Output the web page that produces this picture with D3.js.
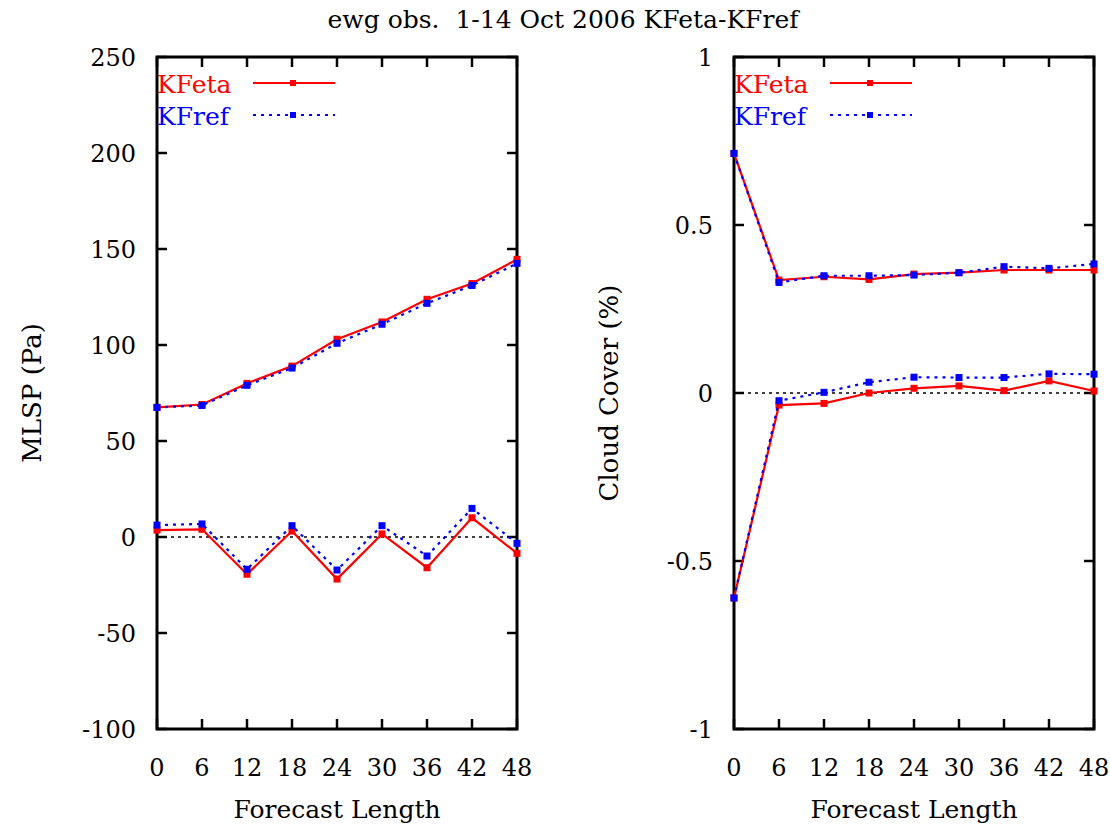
<!DOCTYPE html>
<html>
<head>
<meta charset="utf-8">
<script src="https://cdn.jsdelivr.net/npm/d3@7"></script>
<style>
  body { margin: 0; background: #fff; }
  text { font-family: "DejaVu Serif", "Liberation Serif", serif; white-space: pre; }
</style>
</head>
<body>
<svg id="chart" width="1110" height="829"></svg>
<script>
// forecast hours
const hours = [0, 6, 12, 18, 24, 30, 36, 42, 48];

// MLSP (Pa): upper pair and lower pair of curves
const mlspEtaUpper = [67.5, 69, 80, 89, 103, 112, 123.8, 132, 144.6];
const mlspRefUpper = [67.5, 68.5, 79, 88, 100.9, 110.8, 121.7, 131, 142.5];
const mlspEtaLower = [3.6, 4, -19.4, 3.1, -21.9, 1.6, -16, 10, -8.5];
const mlspRefLower = [6.2, 6.8, -16.8, 5.9, -17.2, 5.9, -9.9, 14.9, -3.3];

// Cloud cover (%): upper pair and lower pair
const ccEtaUpper = [0.713, 0.336, 0.346, 0.338, 0.354, 0.358, 0.366, 0.366, 0.366];
const ccRefUpper = [0.713, 0.329, 0.349, 0.349, 0.351, 0.358, 0.376, 0.371, 0.384];
const ccEtaLower = [-0.61, -0.036, -0.031, 0, 0.014, 0.021, 0.007, 0.036, 0.006];
const ccRefLower = [-0.61, -0.023, 0.002, 0.032, 0.047, 0.046, 0.046, 0.057, 0.056];

// axis ticks
const mlspTicks = [-100, -50, 0, 50, 100, 150, 200, 250];
const ccTicks = [-1, -0.5, 0, 0.5, 1];

const svg = d3.select("#chart");
const red = "#ff0000", blue = "#0000ff";

svg.append("text")
    .attr("x", 563).attr("y", 28)
    .attr("text-anchor", "middle")
    .style("font-size", "25px")
    .text("ewg obs.  1-14 Oct 2006 KFeta-KFref");

function drawPanel(opts) {
    const x = d3.scaleLinear().domain([0, 48]).range([opts.left, opts.left + 360]);
    const y = d3.scaleLinear().domain(opts.domain).range([729, 57]);
    const g = svg.append("g");
    const tick = 10;

    // zero line
    g.append("line")
        .attr("x1", x(0)).attr("x2", x(48))
        .attr("y1", y(0)).attr("y2", y(0))
        .attr("stroke", "#000").attr("stroke-width", 1.5)
        .attr("stroke-dasharray", "3,4");

    // y ticks (inward, mirrored)
    opts.ticks.forEach(t => {
        g.append("line").attr("x1", x(0)).attr("x2", x(0) + tick)
            .attr("y1", y(t)).attr("y2", y(t)).attr("stroke", "#000").attr("stroke-width", 2.5);
        g.append("line").attr("x1", x(48)).attr("x2", x(48) - tick)
            .attr("y1", y(t)).attr("y2", y(t)).attr("stroke", "#000").attr("stroke-width", 2.5);
        g.append("text")
            .attr("x", x(0) - 21).attr("y", y(t) + 9)
            .attr("text-anchor", "end")
            .style("font-size", "24px")
            .text(opts.fmt(t));
    });

    // x ticks
    hours.forEach(h => {
        g.append("line").attr("x1", x(h)).attr("x2", x(h))
            .attr("y1", y.range()[0]).attr("y2", y.range()[0] - tick)
            .attr("stroke", "#000").attr("stroke-width", 2.5);
        g.append("line").attr("x1", x(h)).attr("x2", x(h))
            .attr("y1", y.range()[1]).attr("y2", y.range()[1] + tick)
            .attr("stroke", "#000").attr("stroke-width", 2.5);
        g.append("text")
            .attr("x", x(h)).attr("y", 776)
            .attr("text-anchor", "middle")
            .style("font-size", "24px")
            .text(h);
    });

    // frame
    g.append("rect")
        .attr("x", x(0)).attr("y", 57)
        .attr("width", 360).attr("height", 672)
        .attr("fill", "none").attr("stroke", "#000").attr("stroke-width", 3);

    // axis titles
    g.append("text")
        .attr("x", x(24)).attr("y", 818)
        .attr("text-anchor", "middle")
        .style("font-size", "25px")
        .text("Forecast Length");
    g.append("text")
        .attr("transform", `translate(${opts.left - 116},393) rotate(-90)`)
        .attr("text-anchor", "middle")
        .style("font-size", "26px")
        .text(opts.ylabel);

    const line = d3.line().x((d, i) => x(hours[i])).y(d => y(d));

    function series(vals, color, dashed) {
        g.append("path")
            .datum(vals)
            .attr("d", line)
            .attr("fill", "none")
            .attr("stroke", color)
            .attr("stroke-width", 2.2)
            .attr("stroke-dasharray", dashed ? "3,5" : null);
        g.selectAll(null)
            .data(vals)
            .enter()
            .append("rect")
            .attr("x", (d, i) => x(hours[i]) - 3.5)
            .attr("y", d => y(d) - 3.5)
            .attr("width", 7).attr("height", 7)
            .attr("fill", color);
    }

    series(opts.etaUpper, red, false);
    series(opts.etaLower, red, false);
    series(opts.refUpper, blue, true);
    series(opts.refLower, blue, true);

    // legend
    const legend = [
        { name: "KFeta", color: red, dashed: false, y: 83 },
        { name: "KFref", color: blue, dashed: true, y: 115 }
    ];
    legend.forEach(l => {
        g.append("text")
            .attr("x", opts.left).attr("y", l.y + 10)
            .style("font-size", "25px")
            .attr("fill", l.color)
            .text(l.name);
        g.append("line")
            .attr("x1", opts.left + 96).attr("x2", opts.left + 178)
            .attr("y1", l.y).attr("y2", l.y)
            .attr("stroke", l.color).attr("stroke-width", 2)
            .attr("stroke-dasharray", l.dashed ? "3,5" : null);
        g.append("rect")
            .attr("x", opts.left + 136 - 3).attr("y", l.y - 3)
            .attr("width", 6).attr("height", 6)
            .attr("fill", l.color);
    });
}

drawPanel({
    left: 157, domain: [-100, 250], ticks: mlspTicks,
    fmt: d => d, ylabel: "MLSP (Pa)",
    etaUpper: mlspEtaUpper, refUpper: mlspRefUpper,
    etaLower: mlspEtaLower, refLower: mlspRefLower
});

drawPanel({
    left: 734, domain: [-1, 1], ticks: ccTicks,
    fmt: d => d, ylabel: "Cloud Cover (%)",
    etaUpper: ccEtaUpper, refUpper: ccRefUpper,
    etaLower: ccEtaLower, refLower: ccRefLower
});
</script>
</body>
</html>
